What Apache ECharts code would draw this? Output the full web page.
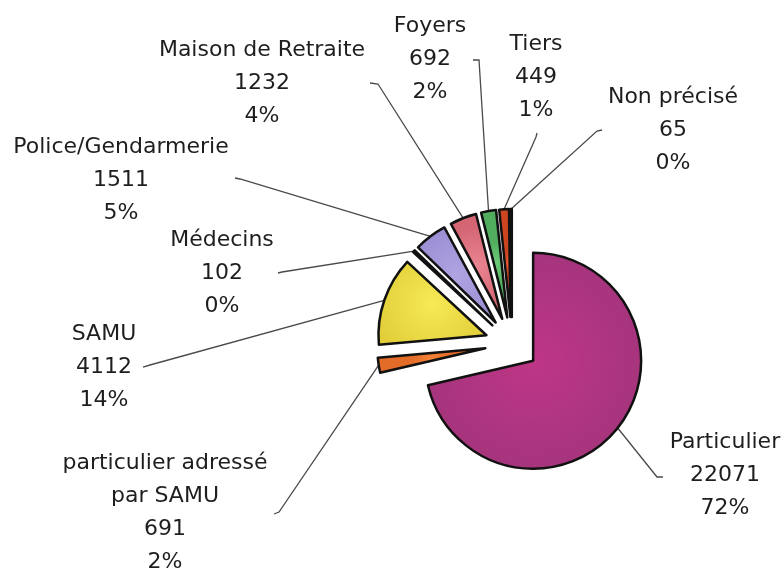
<!DOCTYPE html>
<html>
<head>
<meta charset="utf-8">
<script src="https://cdn.jsdelivr.net/npm/echarts@6/dist/echarts.min.js"></script>
<style>
html, body { margin: 0; padding: 0; background: #fff; }
#main { width: 784px; height: 570px; }
</style>
</head>
<body>
<div id="main"></div>
<script>
// catégories et valeurs
var categories = ['Particulier', 'particulier adressé\npar SAMU', 'SAMU', 'Médecins', 'Police/Gendarmerie',
    'Maison de Retraite', 'Foyers', 'Tiers', 'Non précisé'];
var values = [22071, 691, 4112, 102, 1511, 1232, 692, 449, 65];
var pctLabels = ['72%', '2%', '14%', '0%', '5%', '4%', '2%', '1%', '0%'];
// teinte claire (centre) et foncée (bord) de chaque part
var lightColors = ['#be3686', '#f7853a', '#f6ea56', '#f4f6fb', '#b0a4e2', '#ea8490', '#70cc7a', '#ec5832', '#2a2a2a'];
var darkColors = ['#9a3478', '#e26c28', '#e0cc36', '#d8e0ee', '#9688d0', '#d46674', '#50ae5e', '#cc4420', '#111111'];

var pieCenter = [512, 344];
var explode = 27;

// centre du bloc de texte, puis coude et bout du trait de rappel
var labelPos = [[725, 475], [165, 513], [104, 367], [222, 273], [121, 180], [262, 83], [430, 59], [536, 77], [673, 130]];
var lineEnd = [
    [[657, 477], [663, 477]],
    [[279, 512], [274, 514]],
    [[150, 365], [143, 367]],
    [[282, 272], [278, 273]],
    [[240, 179], [235, 178]],
    [[378, 84], [370, 83]],
    [[479, 60], [473, 60]],
    [[536, 137], [537, 133]],
    [[597, 131], [602, 130]]
];

var chart = echarts.init(document.getElementById('main'));

function fill(i) {
    return new echarts.graphic.RadialGradient(0.5, 0.5, 0.75, [
        { offset: 0, color: lightColors[i] },
        { offset: 1, color: darkColors[i] }
    ]);
}

var sliceData = [], labelData = [];
for (var i = 0; i < categories.length; i++) {
    sliceData.push({
        name: categories[i],
        value: values[i],
        selected: true,
        itemStyle: { color: fill(i) }
    });
    labelData.push({ name: categories[i], value: values[i] });
}

var option = {
    animation: false,
    backgroundColor: '#ffffff',
    series: [{
        // parts éclatées
        type: 'pie',
        center: pieCenter,
        radius: 108,
        startAngle: 90,
        selectedMode: 'multiple',
        selectedOffset: explode,
        itemStyle: { borderColor: '#111', borderWidth: 2.5 },
        label: { show: false },
        labelLine: { show: false },
        emphasis: { disabled: true },
        data: sliceData
    }, {
        // même camembert, invisible, seulement pour les étiquettes
        type: 'pie',
        center: pieCenter,
        radius: 108,
        startAngle: 90,
        silent: true,
        avoidLabelOverlap: false,
        itemStyle: { color: 'rgba(0,0,0,0)', borderWidth: 0 },
        label: {
            show: true,
            position: 'outside',
            fontFamily: 'DejaVu Sans',
            fontSize: 22,
            lineHeight: 33,
            color: '#1e1e1e',
            align: 'center',
            formatter: function (p) {
                return p.name + '\n' + p.value + '\n' + pctLabels[p.dataIndex];
            }
        },
        labelLine: {
            show: true,
            lineStyle: { color: '#4a4a4a', width: 1.3 }
        },
        labelLayout: function (params) {
            var i = params.dataIndex;
            var p0 = params.labelLinePoints[0];
            var ux = p0[0] - pieCenter[0], uy = p0[1] - pieCenter[1];
            var len = Math.sqrt(ux * ux + uy * uy);
            var edge = [p0[0] + ux / len * explode, p0[1] + uy / len * explode];
            return {
                x: labelPos[i][0],
                y: labelPos[i][1],
                align: 'center',
                verticalAlign: 'middle',
                labelLinePoints: [edge, lineEnd[i][0], lineEnd[i][1]]
            };
        },
        emphasis: { disabled: true },
        data: labelData
    }]
};
chart.setOption(option);
</script>
</body>
</html>
